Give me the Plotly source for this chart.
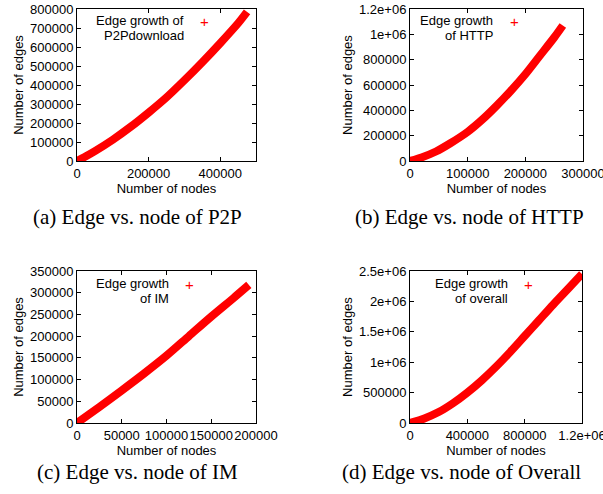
import plotly.graph_objects as go

W, H = 603, 494

# ---- data ----
p2p_nodes = [0, 25000, 50000, 100000, 150000, 200000, 250000, 300000, 350000, 400000, 450000, 475000]
p2p_edges = [0, 25000, 52000, 112000, 180000, 255000, 335000, 425000, 520000, 620000, 725000, 785000]

http_nodes = [0, 20000, 45000, 70000, 100000, 125000, 150000, 175000, 200000, 225000, 250000, 265000]
http_edges = [0, 28000, 75000, 140000, 230000, 325000, 435000, 555000, 685000, 830000, 975000, 1070000]

im_nodes = [0, 25000, 50000, 75000, 100000, 125000, 150000, 175000, 192000]
im_edges = [0, 37000, 75000, 114000, 155000, 200000, 245000, 288000, 318000]

all_nodes = [0, 100000, 200000, 300000, 400000, 500000, 600000, 700000, 800000, 900000, 1000000, 1100000, 1200000]
all_edges = [0, 75000, 180000, 325000, 500000, 700000, 925000, 1170000, 1430000, 1690000, 1950000, 2200000, 2450000]

# tick values / labels
a_xt = [0, 200000, 400000]
a_xl = ["0", "200000", "400000"]
a_yt = [0, 100000, 200000, 300000, 400000, 500000, 600000, 700000, 800000]
a_yl = ["0", "100000", "200000", "300000", "400000", "500000", "600000", "700000", "800000"]

b_xt = [0, 100000, 200000, 300000]
b_xl = ["0", "100000", "200000", "300000"]
b_yt = [0, 200000, 400000, 600000, 800000, 1000000, 1200000]
b_yl = ["0", "200000", "400000", "600000", "800000", "1e+06", "1.2e+06"]

c_xt = [0, 50000, 100000, 150000, 200000]
c_xl = ["0", "50000", "100000", "150000", "200000"]
c_yt = [0, 50000, 100000, 150000, 200000, 250000, 300000, 350000]
c_yl = ["0", "50000", "100000", "150000", "200000", "250000", "300000", "350000"]

d_xt = [0, 400000, 800000, 1200000]
d_xl = ["0", "400000", "800000", "1.2e+06"]
d_yt = [0, 500000, 1000000, 1500000, 2000000, 2500000]
d_yl = ["0", "500000", "1e+06", "1.5e+06", "2e+06", "2.5e+06"]

legend_lines = [
    ("Edge growth of", "P2Pdownload"),
    ("Edge growth", "of HTTP"),
    ("Edge growth", "of IM"),
    ("Edge growth", "of overall"),
]
captions = [
    "(a) Edge vs. node of P2P",
    "(b) Edge vs. node of HTTP",
    "(c) Edge vs. node of IM",
    "(d) Edge vs. node of Overall",
]

RED = "#ff0000"
SANS = "Liberation Sans, Arial, sans-serif"
SERIF = "Liberation Serif, Times New Roman, serif"


def px_x(v):
    return v / W


def px_y(v):
    return 1 - v / H


fig = go.Figure()

series = [(p2p_nodes, p2p_edges), (http_nodes, http_edges), (im_nodes, im_edges), (all_nodes, all_edges)]
for i, (xs, ys) in enumerate(series):
    sfx = "" if i == 0 else str(i + 1)
    fig.add_trace(go.Scatter(
        x=xs, y=ys, mode="lines",
        line=dict(color=RED, width=8, shape="spline", smoothing=0.8),
        xaxis="x" + sfx, yaxis="y" + sfx, showlegend=False, hoverinfo="skip",
    ))

# pixel geometry of the four plot boxes (left, right, top, bottom)
boxes = [(77, 256, 9, 161), (410, 583, 9, 161), (77, 256, 271, 423), (410, 582, 271, 423)]
xranges = [[0, 500000], [0, 300000], [0, 200000], [0, 1200000]]
yranges = [[0, 800000], [0, 1200000], [0, 350000], [0, 2500000]]
xticks = [(a_xt, a_xl), (b_xt, b_xl), (c_xt, c_xl), (d_xt, d_xl)]
yticks = [(a_yt, a_yl), (b_yt, b_yl), (c_yt, c_yl), (d_yt, d_yl)]

axis_common = dict(
    showline=True, linecolor="black", linewidth=1, mirror="allticks",
    ticks="inside", ticklen=4, tickcolor="black", tickwidth=1,
    showgrid=False, zeroline=False, automargin=False, tickangle=0,
    ticklabeloverflow="allow",
    tickfont=dict(family=SANS, size=13, color="black"),
    tickmode="array",
)

layout = {}
for i in range(4):
    sfx = "" if i == 0 else str(i + 1)
    l, r, t, b = boxes[i]
    layout["xaxis" + sfx] = dict(
        axis_common,
        domain=[px_x(l), px_x(r)], range=xranges[i], anchor="y" + sfx,
        tickvals=xticks[i][0], ticktext=xticks[i][1],
        title=dict(text="Number of nodes", font=dict(family=SANS, size=13, color="black"), standoff=1),
    )
    layout["yaxis" + sfx] = dict(
        axis_common,
        domain=[px_y(b), px_y(t)], range=yranges[i], anchor="x" + sfx,
        tickvals=yticks[i][0], ticktext=yticks[i][1],
        title=dict(text="Number of edges", font=dict(family=SANS, size=13, color="black"), standoff=3),
    )

annotations = []
leg_pos = [  # text right edge x, line1 y, line2 y, plus x, plus y (pixels)
    (185, 20.5, 35.5, 204, 22),
    (494, 20.5, 35.5, 514, 22),
    (170, 283.8, 298.9, 189, 284.3),
    (509, 283.8, 298.9, 528, 284.3),
]
for i, (tx, y1, y2, px, py) in enumerate(leg_pos):
    for txt, yy in ((legend_lines[i][0], y1), (legend_lines[i][1], y2)):
        annotations.append(dict(
            text=txt, x=px_x(tx), y=px_y(yy), xref="paper", yref="paper",
            xanchor="right", yanchor="middle", showarrow=False, borderpad=0,
            font=dict(family=SANS, size=13, color="black"),
        ))
    annotations.append(dict(
        text="+", x=px_x(px), y=px_y(py), xref="paper", yref="paper",
        xanchor="center", yanchor="middle", showarrow=False, borderpad=0,
        font=dict(family=SANS, size=15, color=RED),
    ))

cap_pos = [(137, 217), (469, 217), (137, 472), (461, 472)]
for i, (cx, cy) in enumerate(cap_pos):
    annotations.append(dict(
        text=captions[i], x=px_x(cx), y=px_y(cy), xref="paper", yref="paper",
        xanchor="center", yanchor="middle", showarrow=False,
        font=dict(family=SERIF, size=21, color="black"),
    ))

fig.update_layout(
    width=W, height=H,
    margin=dict(l=0, r=0, t=0, b=0),
    paper_bgcolor="white", plot_bgcolor="white",
    annotations=annotations,
    **layout,
)

# remove the page's default body margin so the figure sits at the window corner
fig.write_html(
    "out.html",
    config={"displayModeBar": False},
    post_script="document.body.style.margin='0';document.body.style.overflow='hidden';",
)
